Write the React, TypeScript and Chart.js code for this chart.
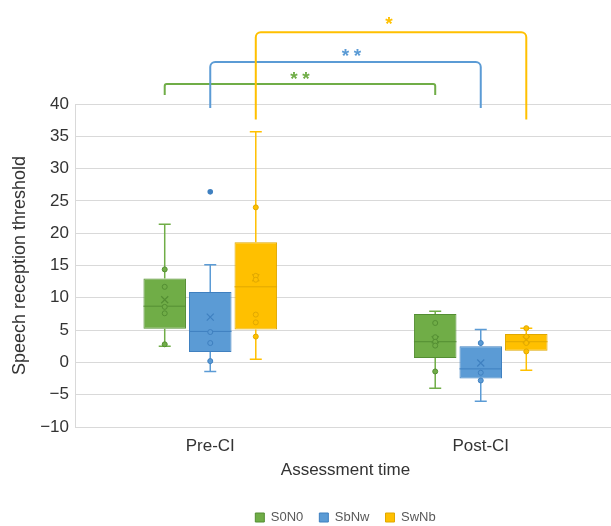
import React, { useEffect, useRef } from 'react';
import { Chart, registerables } from 'chart.js';

Chart.register(...registerables);

// ---- data ----
const categories = ['Pre-CI', 'Post-CI'];
const seriesNames = ['S0N0', 'SbNw', 'SwNb'];

const s0n0Min = [2.5, -4.0];
const s0n0Q1 = [5.2, 0.7];
const s0n0Median = [8.7, 3.2];
const s0n0Q3 = [13.0, 7.5];
const s0n0Max = [21.4, 7.9];
const s0n0Mean = [9.7, 3.5];
const s0n0Points = [[14.4, 11.7, 8.6, 7.6, 2.8], [6.1, 3.9, 3.2, 2.6, -1.4]];
const s0n0Outliers: number[][] = [[], []];

const sbnwMin = [-1.4, -6.0];
const sbnwQ1 = [1.6, -2.5];
const sbnwMedian = [4.8, -1.0];
const sbnwQ3 = [10.9, 2.5];
const sbnwMax = [15.1, 5.1];
const sbnwMean = [7.0, -0.1];
const sbnwPoints = [[4.7, 3.0, 0.2], [3.0, -1.6, -2.8]];
const sbnwOutliers: number[][] = [[26.4], []];

const swnbMin = [0.5, -1.2];
const swnbQ1 = [5.1, 1.8];
const swnbMedian = [11.7, 3.2];
const swnbQ3 = [18.6, 4.4];
const swnbMax = [35.7, 5.3];
const swnbMean = [13.1, 3.5];
const swnbPoints = [[24.0, 13.4, 12.8, 7.4, 6.2, 4.0], [5.3, 4.0, 3.0, 1.7]];
const swnbOutliers: number[][] = [[], []];

const significance = ['**', '**', '*'];

// ---- styles / layout ----
const fills = ['#70AD47', '#5B9BD5', '#FFC000'];
const darks = ['#548E33', '#3F80C0', '#E0A800'];
// bracket levels (in axis units, above the plot)
const bracketTopLevel = [43.1, 46.5, 51.1];
const bracketEndLevel = [41.4, 39.4, 37.6];
const starLevel = [44.5, 48.1, 53.0];
const starShift = [0, 6, -2];

const stats = [
  { min: s0n0Min, q1: s0n0Q1, med: s0n0Median, q3: s0n0Q3, max: s0n0Max, mean: s0n0Mean, pts: s0n0Points, out: s0n0Outliers },
  { min: sbnwMin, q1: sbnwQ1, med: sbnwMedian, q3: sbnwQ3, max: sbnwMax, mean: sbnwMean, pts: sbnwPoints, out: sbnwOutliers },
  { min: swnbMin, q1: swnbQ1, med: swnbMedian, q3: swnbQ3, max: swnbMax, mean: swnbMean, pts: swnbPoints, out: swnbOutliers },
];

const FONT = "'Liberation Sans', Arial, Helvetica, sans-serif";

const boxPlugin = {
  id: 'boxExtras',
  afterDatasetsDraw(chart: any) {
    const ctx = chart.ctx as CanvasRenderingContext2D;
    const y = chart.scales.y;
    ctx.save();
    stats.forEach((s, i) => {
      const meta = chart.getDatasetMeta(i);
      meta.data.forEach((bar: any, j: number) => {
        const x = bar.x;
        const w = bar.width;
        const capW = 12;
        ctx.strokeStyle = fills[i];
        ctx.lineWidth = 1.5;
        // whiskers
        ctx.beginPath();
        ctx.moveTo(x, y.getPixelForValue(s.q3[j]));
        ctx.lineTo(x, y.getPixelForValue(s.max[j]));
        ctx.moveTo(x - capW / 2, y.getPixelForValue(s.max[j]));
        ctx.lineTo(x + capW / 2, y.getPixelForValue(s.max[j]));
        ctx.moveTo(x, y.getPixelForValue(s.q1[j]));
        ctx.lineTo(x, y.getPixelForValue(s.min[j]));
        ctx.moveTo(x - capW / 2, y.getPixelForValue(s.min[j]));
        ctx.lineTo(x + capW / 2, y.getPixelForValue(s.min[j]));
        ctx.stroke();
        // median
        ctx.strokeStyle = darks[i];
        ctx.lineWidth = 1;
        ctx.beginPath();
        const my = y.getPixelForValue(s.med[j]);
        ctx.moveTo(x - w / 2, my);
        ctx.lineTo(x + w / 2, my);
        ctx.stroke();
        // mean X
        const mY = y.getPixelForValue(s.mean[j]);
        ctx.lineWidth = 1.2;
        ctx.beginPath();
        ctx.moveTo(x - 3.5, mY - 3.5);
        ctx.lineTo(x + 3.5, mY + 3.5);
        ctx.moveTo(x + 3.5, mY - 3.5);
        ctx.lineTo(x - 3.5, mY + 3.5);
        ctx.stroke();
        // points
        s.pts[j].forEach((v: number) => {
          ctx.beginPath();
          ctx.arc(x, y.getPixelForValue(v), 2.5, 0, Math.PI * 2);
          ctx.fillStyle = fills[i];
          ctx.fill();
          ctx.strokeStyle = darks[i];
          ctx.lineWidth = 1;
          ctx.stroke();
        });
        s.out[j].forEach((v: number) => {
          ctx.beginPath();
          ctx.arc(x, y.getPixelForValue(v), 2.8, 0, Math.PI * 2);
          ctx.fillStyle = darks[i];
          ctx.fill();
        });
      });
    });

    // significance brackets
    stats.forEach((_s, i) => {
      const meta = chart.getDatasetMeta(i);
      const x1 = meta.data[0].x;
      const x2 = meta.data[1].x;
      const yt = y.getPixelForValue(bracketTopLevel[i]);
      const ye = y.getPixelForValue(bracketEndLevel[i]);
      const r = i === 0 ? 2 : 5;
      ctx.strokeStyle = fills[i];
      ctx.lineWidth = 2;
      ctx.beginPath();
      ctx.moveTo(x1, ye);
      ctx.lineTo(x1, yt + r);
      ctx.arcTo(x1, yt, x1 + r, yt, r);
      ctx.lineTo(x2 - r, yt);
      ctx.arcTo(x2, yt, x2, yt + r, r);
      ctx.lineTo(x2, ye);
      ctx.stroke();
      // stars
      const label = significance[i];
      const cx = (x1 + x2) / 2 + starShift[i];
      const cy = y.getPixelForValue(starLevel[i]);
      ctx.fillStyle = fills[i];
      ctx.font = `bold 19px ${FONT}`;
      ctx.textAlign = 'center';
      ctx.textBaseline = 'alphabetic';
      const n = label.length;
      for (let k = 0; k < n; k++) {
        const sx = cx + (k - (n - 1) / 2) * 12;
        ctx.fillText('*', sx, cy + 10);
      }
    });
    ctx.restore();
  },
};

export default function App() {
  const ref = useRef<HTMLCanvasElement | null>(null);
  useEffect(() => {
    if (!ref.current) return;
    const chart = new Chart(ref.current, {
      type: 'bar',
      data: {
        labels: categories,
        datasets: seriesNames.map((name, i) => ({
          label: name,
          data: categories.map((_c, j) => [stats[i].q1[j], stats[i].q3[j]]),
          backgroundColor: fills[i],
          borderColor: darks[i],
          borderWidth: 1,
          borderSkipped: false,
          categoryPercentage: 0.505,
          barPercentage: 0.934,
        })) as any,
      },
      options: {
        responsive: false,
        animation: false,
        devicePixelRatio: 1,
        layout: { padding: { top: 104, left: 0, right: 4, bottom: 0 } },
        plugins: {
          tooltip: { enabled: false },
          legend: {
            position: 'bottom',
            fullSize: false,
            labels: {
              boxWidth: 9,
              boxHeight: 9,
              padding: 16,
              color: '#595959',
              font: { family: FONT, size: 13 },
            },
          },
        },
        scales: {
          x: {
            grid: { display: false, drawTicks: false },
            border: { display: false },
            ticks: { color: '#333', padding: 9, font: { family: FONT, size: 17 } },
            title: {
              display: true,
              text: 'Assessment time',
              color: '#333',
              font: { family: FONT, size: 17 },
              padding: { top: 2, bottom: 14 },
            },
            afterFit: (scale: any) => { scale.height = 68; },
          },
          y: {
            min: -10,
            max: 40,
            grid: { color: '#d9d9d9', drawTicks: false, lineWidth: 1 },
            border: { display: true, color: '#d9d9d9' },
            ticks: {
              stepSize: 5,
              color: '#333',
              padding: 6,
              font: { family: FONT, size: 17 },
              callback: (v: any) => String(v).replace('-', '\u2212'),
            },
            title: {
              display: true,
              text: 'Speech reception threshold',
              color: '#333',
              font: { family: FONT, size: 18 },
              padding: { top: 9, bottom: 4 },
            },
            afterFit: (scale: any) => { scale.width = 75; },
          },
        },
      },
      plugins: [boxPlugin],
    });
    return () => chart.destroy();
  }, []);
  return (
    <div style={{ position: 'fixed', left: 0, top: 0, width: 611, height: 526, overflow: 'hidden', background: '#fff' }}>
      <canvas ref={ref} width={620} height={534} style={{ display: 'block' }} />
    </div>
  );
}
